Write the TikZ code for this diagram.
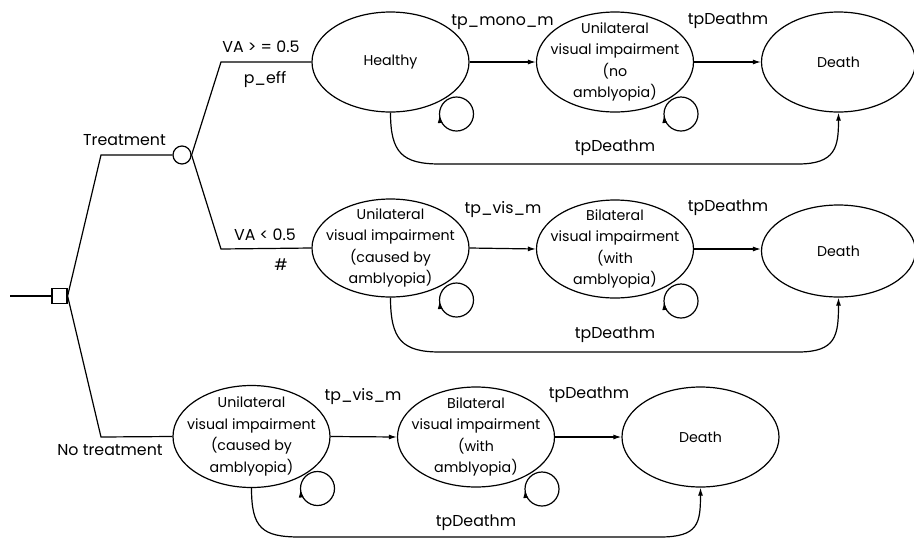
\documentclass[tikz,border=0pt]{standalone}
\usepackage{fontspec}
\setmainfont{Poppins}
\usetikzlibrary{shapes.geometric,arrows.meta,backgrounds}
\tikzset{
  st/.style={draw, ellipse, fill=white, minimum width=157pt, minimum height=100pt, inner sep=-16pt, align=center, font=\fontsize{14.2}{21.5}\selectfont},
  lab/.style={font=\fontsize{15.8}{17}\selectfont, inner sep=0pt},
  arr/.style={-{Latex[length=8pt,width=5pt]}},
  lw/.style={line width=1.2pt}
}
\newcommand{\myloop}[1]{%
  \draw[lw] ([shift={(66,52)}]#1.center) circle[radius=17pt];
  \draw[lw,arr] ([shift={(49.6,60)}]#1.center) -- ([shift={(49,53)}]#1.center);}
\begin{document}
\begin{tikzpicture}[x=1pt,y=-1pt,lw]
\useasboundingbox (0,0) rectangle (914,539);
% decision tree
\coordinate (root) at (10,296);
\node[draw, rectangle, minimum size=15pt, inner sep=0pt] (dec) at (59.5,296) {};
\node[draw, circle, minimum size=18pt, inner sep=0pt] (tr) at (182,155) {};
\coordinate (tk) at (101,155);
\coordinate (ntk) at (101,437);
\coordinate (va1) at (221,62);
\coordinate (va2) at (221,249);
% states
\node[st] (h) at (390.5,62) {Healthy};
\node[st] (u1) at (615,62) {Unilateral\\visual impairment\\(no\\amblyopia)};
\node[st, minimum width=154pt] (d1) at (838.5,62) {Death};
\node[st, minimum height=98pt] (u2) at (390.5,248) {Unilateral\\visual impairment\\(caused by\\amblyopia)};
\node[st, minimum height=98pt] (b2) at (615,249) {Bilateral\\visual impairment\\(with\\amblyopia)};
\node[st, minimum width=154pt, minimum height=92pt] (d2) at (838.5,251) {Death};
\node[st, minimum height=102pt] (u3) at (251.5,436.5) {Unilateral\\visual impairment\\(caused by\\amblyopia)};
\node[st] (b3) at (476,437) {Bilateral\\visual impairment\\(with\\amblyopia)};
\node[st] (d3) at (700.5,437) {Death};
% loops behind
\begin{scope}[on background layer]
\myloop{h}
\myloop{u1}
\myloop{u2}
\myloop{b2}
\myloop{u3}
\myloop{b3}
\end{scope}
% tree lines
\draw (root) -- (dec.west);
\draw (dec.east) -- (tk) -- (tr.west);
\draw (dec.east) -- (ntk) -- (u3.west);
\draw (tr.east) -- (va1) -- (h.west);
\draw (tr.east) -- (va2) -- (u2.west);
\node[lab] (ltr) at (124.5,140) {Treatment};
\node[lab] (lntr) at (110,450) {No treatment};
\node[lab] (lva1) at (261,47) {VA > = 0.5};
\node[lab] (lpeff) at (265,80) {p\_eff};
\node[lab] (lva2) at (265,235) {VA < 0.5};
\node[lab] (lhash) at (281,265) {\#};
% transitions row 1
\draw[arr] (h.east) -- (u1.west);
\draw[arr] (u1.east) -- (d1.west);
\node[lab] (l11) at (502.5,22) {tp\_mono\_m};
\node[lab] (l12) at (728,21) {tpDeathm};
\coordinate (c1a) at (440,164);
\coordinate (c1b) at (798,164);
\draw[arr] (h.south) .. controls +(0,40) and +(-38,0) .. (c1a) -- (c1b) .. controls +(38,0) and +(0,34) .. (d1.south);
\node[lab] (l13) at (615,148) {tpDeathm};
% row 2
\draw[arr] (u2.east) -- (b2.west);
\draw[arr] (b2.east) -- (d2.west |- b2.east);
\node[lab] (l21) at (503,210) {tp\_vis\_m};
\node[lab] (l22) at (728,208) {tpDeathm};
\coordinate (c2a) at (440,352);
\coordinate (c2b) at (798,352);
\draw[arr] (u2.south) .. controls +(0,42) and +(-38,0) .. (c2a) -- (c2b) .. controls +(38,0) and +(0,38) .. (d2.south);
\node[lab] (l23) at (615,335) {tpDeathm};
% row 3
\draw[arr] (u3.east) -- (b3.west);
\draw[arr] (b3.east) -- (d3.west);
\node[lab] (l31) at (363,397) {tp\_vis\_m};
\node[lab] (l32) at (589,395) {tpDeathm};
\coordinate (c3a) at (300,537);
\coordinate (c3b) at (660,537);
\draw[arr] (u3.south) .. controls +(0,40) and +(-38,0) .. (c3a) -- (c3b) .. controls +(38,0) and +(0,36) .. (d3.south);
\node[lab] (l33) at (476,523) {tpDeathm};
\end{tikzpicture}
\end{document}
